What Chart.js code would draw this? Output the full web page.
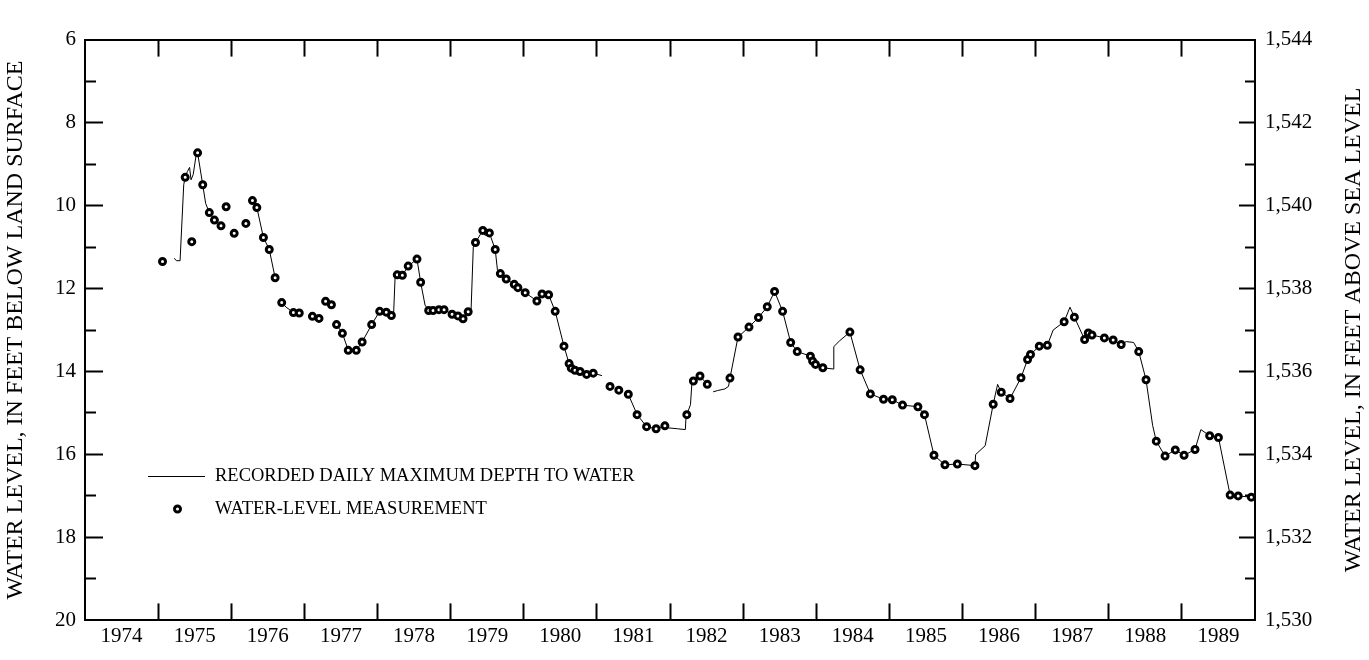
<!DOCTYPE html>
<html><head><meta charset="utf-8">
<script src="https://cdn.jsdelivr.net/npm/chart.js"></script>
<style>html,body{margin:0;padding:0;background:#fff;}canvas{display:block;}</style>
</head><body>
<canvas id="c" width="1369" height="660"></canvas>
<script>
// ---- data ----
const lineYears = [
 1975.22,1975.25,1975.30,1975.35,1975.37,1975.40,1975.43,1975.45,1975.48,1975.52,1975.54,1975.61,1975.65,1975.70,1975.77,1975.86,
 1976.00,
 1976.29,1976.35,1976.44,1976.52,1976.60,
 1976.65,
 1976.69,1976.75,1976.85,1976.93,
 1977.20,
 1977.44,1977.52,1977.60,1977.71,1977.79,1977.92,1978.03,1978.12,1978.19,1978.22,1978.24,1978.27,1978.34,1978.42,1978.54,1978.59,1978.65,1978.70,1978.76,1978.84,1978.91,1979.02,1979.10,1979.17,1979.24,1979.28,1979.31,1979.34,1979.44,1979.47,1979.53,1979.61,1979.64,1979.68,1979.76,1979.87,1979.92,1980.02,1980.18,1980.25,1980.34,1980.43,1980.55,1980.62,1980.65,1980.70,1980.77,1980.86,1980.95,1981.07,
 1981.20,
 1981.40,1981.43,1981.55,1981.68,1981.81,1981.93,1981.98,1982.10,1982.21,1982.22,1982.23,1982.28,1982.30,1982.32,1982.41,1982.51,
 1982.55,
 1982.59,1982.65,1982.75,1982.80,1982.82,1982.93,1983.08,1983.21,1983.33,1983.43,1983.54,1983.65,1983.74,1983.92,1983.95,1983.99,1984.09,1984.23,1984.24,1984.32,1984.46,1984.60,1984.74,1984.92,1985.04,1985.18,1985.39,1985.48,1985.61,1985.76,1985.93,1986.17,1986.18,1986.31,1986.42,1986.48,1986.53,1986.65,1986.80,1986.89,1986.93,1987.05,1987.16,1987.24,1987.39,1987.47,1987.53,1987.67,1987.72,1987.77,1987.94,1988.06,1988.17,1988.24,1988.34,1988.41,1988.51,1988.60,1988.65,1988.77,1988.91,1989.03,1989.18,1989.26,1989.38,1989.50,1989.66,1989.77,1989.95
];
const lineDepths = [
 11.27,11.33,11.33,9.50,9.32,9.18,9.08,9.38,9.25,8.78,8.73,9.50,9.95,10.17,10.35,10.49,
 null,
 9.88,10.05,10.77,11.06,11.74,
 null,
 12.34,12.45,12.58,12.59,
 null,
 12.87,13.08,13.49,13.49,13.29,12.87,12.55,12.57,12.65,12.62,11.75,11.67,11.68,11.46,11.29,11.85,12.40,12.53,12.53,12.51,12.51,12.62,12.66,12.73,12.56,12.50,11.00,10.89,10.60,10.72,10.66,11.06,11.55,11.64,11.77,11.90,11.98,12.10,12.30,12.13,12.15,12.55,13.39,13.81,13.92,13.97,14.00,14.07,14.04,14.10,
 null,
 14.52,14.55,15.04,15.33,15.38,15.31,15.36,15.38,15.40,15.06,15.04,14.80,14.26,14.23,14.11,14.31,
 null,
 14.49,14.46,14.42,14.36,14.16,13.17,12.93,12.70,12.44,12.07,12.55,13.30,13.52,13.63,13.75,13.83,13.91,13.94,13.40,13.26,13.05,13.96,14.54,14.67,14.68,14.81,14.85,15.04,16.02,16.25,16.23,16.27,16.00,15.79,14.79,14.31,14.50,14.65,14.15,13.71,13.59,13.39,13.37,13.00,12.80,12.45,12.69,13.23,13.07,13.12,13.19,13.24,13.35,13.28,13.30,13.52,14.20,15.30,15.68,16.04,15.89,16.02,15.88,15.40,15.55,15.59,16.98,17.00,17.03
];
const measYears = [
 1975.06,1975.37,1975.46,1975.54,1975.61,1975.70,1975.77,1975.86,1975.93,1976.04,1976.20,1976.29,1976.35,1976.44,1976.52,1976.60,1976.69,1976.85,1976.93,1977.11,1977.20,1977.29,1977.37,1977.44,1977.52,1977.60,1977.71,1977.79,1977.92,
 1978.03,1978.12,1978.19,1978.27,1978.34,1978.42,1978.54,1978.59,1978.70,1978.76,1978.84,1978.91,1979.02,1979.10,1979.17,1979.24,1979.34,1979.44,1979.53,1979.61,1979.68,1979.76,1979.87,1979.92,
 1980.02,1980.18,1980.25,1980.34,1980.43,1980.55,1980.62,1980.65,1980.70,1980.77,1980.86,1980.95,1981.18,1981.30,1981.43,1981.55,1981.68,1981.81,1981.93,
 1982.23,1982.32,1982.41,1982.51,1982.82,1982.93,1983.08,1983.21,1983.33,1983.43,1983.54,1983.65,1983.74,1983.92,1983.95,1983.99,1984.09,1984.46,1984.60,1984.74,1984.92,
 1985.04,1985.18,1985.39,1985.48,1985.61,1985.76,1985.93,1986.17,1986.42,1986.53,1986.65,1986.80,1986.89,1986.93,1987.05,1987.16,1987.39,1987.53,1987.67,1987.72,1987.77,1987.94,
 1988.06,1988.17,1988.41,1988.51,1988.65,1988.77,1988.91,1989.03,1989.18,1989.38,1989.50,1989.66,1989.77,1989.95
];
const measDepths = [
 11.35,9.32,10.87,8.73,9.50,10.17,10.35,10.49,10.03,10.67,10.43,9.88,10.05,10.77,11.06,11.74,12.34,12.58,12.59,12.67,12.72,12.31,12.39,12.87,13.08,13.49,13.49,13.29,12.87,
 12.55,12.57,12.65,11.67,11.68,11.46,11.29,11.85,12.53,12.53,12.51,12.51,12.62,12.66,12.73,12.56,10.89,10.60,10.66,11.06,11.64,11.77,11.90,11.98,
 12.10,12.30,12.13,12.15,12.55,13.39,13.81,13.92,13.97,14.00,14.07,14.04,14.36,14.45,14.55,15.04,15.33,15.38,15.31,
 15.04,14.23,14.11,14.31,14.16,13.17,12.93,12.70,12.44,12.07,12.55,13.30,13.52,13.63,13.75,13.83,13.91,13.05,13.96,14.54,14.67,
 14.68,14.81,14.85,15.04,16.02,16.25,16.23,16.27,14.79,14.50,14.65,14.15,13.71,13.59,13.39,13.37,12.80,12.69,13.23,13.07,13.12,13.19,
 13.24,13.35,13.52,14.20,15.68,16.04,15.89,16.02,15.88,15.55,15.59,16.98,17.00,17.03
];
const yearLabels = [1974,1975,1976,1977,1978,1979,1980,1981,1982,1983,1984,1985,1986,1987,1988,1989];
const depthRange = [6, 20];
const altitudeRange = [1530, 1544];
const seriesLabels = ['RECORDED DAILY MAXIMUM DEPTH TO WATER', 'WATER-LEVEL MEASUREMENT'];
const leftTitle = 'WATER LEVEL, IN FEET BELOW LAND SURFACE';
const rightTitle = 'WATER LEVEL, IN FEET ABOVE SEA LEVEL';

// ---- chart ----
const FONT = "'Liberation Serif', 'Times New Roman', serif";
const BLACK = '#000';
const CLEAR = 'rgba(0,0,0,0)';
const lineData = lineYears.map((x, i) => ({x, y: lineDepths[i]}));
const measData = measYears.map((x, i) => ({x, y: measDepths[i]}));
const fmtAlt = v => String(v).replace(/(\d)(\d{3})$/, '$1,$2');
const xMin = yearLabels[0], xMax = yearLabels[yearLabels.length - 1] + 1;
const TITLE_SIZE = 24, TICK_SIZE = 21, LEGEND_SIZE = 18.5;

const extrasPlugin = {
  id: 'extras',
  afterDraw(chart) {
    const {ctx, chartArea} = chart;
    ctx.save();
    // right-hand axis title (reads bottom to top, like the left one)
    ctx.fillStyle = BLACK;
    ctx.font = TITLE_SIZE + 'px ' + FONT;
    ctx.textAlign = 'center';
    ctx.textBaseline = 'middle';
    ctx.translate(1354, (chartArea.top + chartArea.bottom) / 2);
    ctx.rotate(-Math.PI / 2);
    ctx.fillText(rightTitle, 0, 0);
    ctx.restore();

    // legend inside the plot
    ctx.save();
    const lx = chartArea.left + 63, lw = 57, ty = 476, gap = 33;
    ctx.strokeStyle = BLACK;
    ctx.lineWidth = 1;
    ctx.beginPath();
    ctx.moveTo(lx, ty + 0.5);
    ctx.lineTo(lx + lw, ty + 0.5);
    ctx.stroke();
    ctx.fillStyle = '#fff';
    ctx.lineWidth = 3;
    Chart.helpers.drawPoint(ctx, {pointStyle: 'circle', radius: 3, borderWidth: 3}, lx + lw / 2 + 1, ty + gap);
    ctx.fillStyle = BLACK;
    ctx.font = LEGEND_SIZE + 'px ' + FONT;
    ctx.textAlign = 'left';
    ctx.textBaseline = 'middle';
    ctx.fillText(seriesLabels[0], lx + lw + 10, ty);
    ctx.fillText(seriesLabels[1], lx + lw + 10, ty + gap);
    ctx.restore();
  }
};

const tickFont = {family: FONT, size: TICK_SIZE};

new Chart(document.getElementById('c'), {
  type: 'line',
  data: {
    datasets: [
      {
        label: seriesLabels[0],
        data: lineData,
        borderColor: BLACK,
        borderWidth: 1,
        pointRadius: 0,
        tension: 0,
        spanGaps: false,
        order: 2
      },
      {
        label: seriesLabels[1],
        data: measData,
        showLine: false,
        pointStyle: 'circle',
        pointRadius: 3,
        pointBorderWidth: 3,
        pointBackgroundColor: '#fff',
        pointBorderColor: BLACK,
        order: 1
      }
    ]
  },
  options: {
    responsive: false,
    animation: false,
    devicePixelRatio: 1,
    layout: {padding: 0},
    plugins: {legend: {display: false}, tooltip: {enabled: false}},
    scales: {
      x: {
        type: 'linear', position: 'bottom', min: xMin, max: xMax,
        afterFit(s) { s.height = 29; },
        border: {display: true, color: BLACK, width: 2},
        grid: {drawOnChartArea: false, tickLength: -17, tickWidth: 2,
          tickColor: c => (Number.isInteger(c.tick.value) && c.tick.value > xMin && c.tick.value < xMax) ? BLACK : CLEAR},
        ticks: {stepSize: 0.5, autoSkip: false, maxRotation: 0, minRotation: 0, padding: 20, color: BLACK, font: tickFont,
          callback: v => (Math.abs(v % 1 - 0.5) < 1e-6 ? String(yearLabels[Math.floor(v) - xMin]) : '')}
      },
      xTop: {
        type: 'linear', position: 'top', min: xMin, max: xMax,
        afterFit(s) { s.height = 20; },
        border: {display: true, color: BLACK, width: 2},
        grid: {drawOnChartArea: false, tickLength: -17, tickWidth: 2,
          tickColor: c => (c.tick.value > xMin && c.tick.value < xMax) ? BLACK : CLEAR},
        ticks: {display: false, stepSize: 1, autoSkip: false}
      },
      y: {
        type: 'linear', position: 'left', min: depthRange[0], max: depthRange[1], reverse: true, weight: 1,
        afterFit(s) { s.width = 85; },
        border: {display: true, color: BLACK, width: 2},
        grid: {drawOnChartArea: false, tickLength: -18, tickWidth: 2,
          tickColor: c => (c.tick.value > depthRange[0] && c.tick.value < depthRange[1]) ? BLACK : CLEAR},
        ticks: {stepSize: 2, padding: 27, color: BLACK, font: tickFont},
        title: {display: true, text: leftTitle, color: BLACK, font: {family: FONT, size: TITLE_SIZE}, padding: {top: 1, bottom: 0}}
      },
      yMinor: {
        type: 'linear', position: 'left', min: depthRange[0], max: depthRange[1], reverse: true, weight: 0,
        afterFit(s) { s.width = 0; },
        border: {display: false},
        grid: {drawOnChartArea: false, tickLength: -11, tickWidth: 2,
          tickColor: c => (c.tick.value % 2 === 1) ? BLACK : CLEAR},
        ticks: {display: false, stepSize: 1}
      },
      y2: {
        type: 'linear', position: 'right', min: altitudeRange[0], max: altitudeRange[1], weight: 1,
        afterFit(s) { s.width = 114; },
        border: {display: true, color: BLACK, width: 2},
        grid: {drawOnChartArea: false, tickLength: -16, tickWidth: 2,
          tickColor: c => (c.tick.value > altitudeRange[0] && c.tick.value < altitudeRange[1]) ? BLACK : CLEAR},
        ticks: {stepSize: 2, padding: 26, color: BLACK, font: tickFont, callback: v => fmtAlt(v)}
      },
      y2Minor: {
        type: 'linear', position: 'right', min: altitudeRange[0], max: altitudeRange[1], weight: 0,
        afterFit(s) { s.width = 0; },
        border: {display: false},
        grid: {drawOnChartArea: false, tickLength: -10, tickWidth: 2,
          tickColor: c => (c.tick.value % 2 === 1) ? BLACK : CLEAR},
        ticks: {display: false, stepSize: 1}
      }
    }
  },
  plugins: [extrasPlugin]
});
</script>
</body></html>
